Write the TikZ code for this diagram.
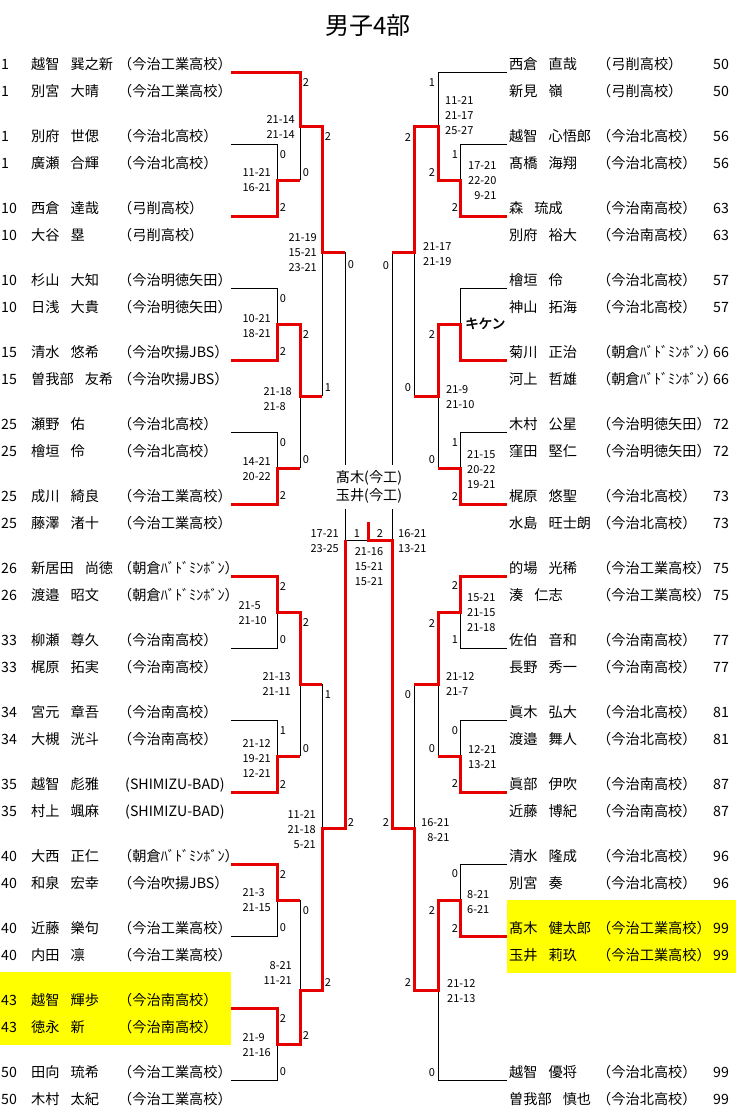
\documentclass[tikz,border=0pt]{standalone}
\usepackage{fontspec}
\setmainfont{Noto Sans CJK JP}[AutoFakeBold=2.5]
\definecolor{winred}{RGB}{230,0,0}
\definecolor{hilite}{RGB}{255,255,0}
\newcommand\zs{\hspace{11pt}}

\begin{document}
\begin{tikzpicture}[x=1pt,y=-1pt,
  win/.style={draw=winred,line width=3pt},
  lose/.style={draw=black,line width=0.8pt},
  txt/.style={inner sep=0pt,anchor=west,font=\fontsize{14.2}{16}\selectfont,text height=11.8pt,text depth=1pt},
  pt/.style={inner sep=0pt,font=\fontsize{11}{12}\selectfont,text height=8pt,text depth=0pt},
  sc/.style={inner sep=0pt,font=\fontsize{11}{15}\selectfont}]
\useasboundingbox (0,0) rectangle (736,1117);

% finalists
\fill[hilite] (0,972) rectangle (231,1045);
\fill[hilite] (507,900) rectangle (736,973);

\node[font=\fontsize{24}{26}\selectfont,inner sep=0pt] (title) at (368,25) {男子4部};

% team line ends
\foreach \k in {1,...,15} \coordinate (L\k) at (231,{72*\k});
\foreach \y [count=\k] in {72,144,216,288,360,432,504,576,648,720,792,864,936,1080}
  \coordinate (R\k) at (507,\y);

% junctions, left
\coordinate (la) at (277,180);  \coordinate (lb) at (300,126);
\coordinate (lc) at (277,324);  \coordinate (ld) at (277,468);
\coordinate (le) at (300,396);  \coordinate (lf) at (322,252);
\coordinate (lg) at (277,612);  \coordinate (lh) at (277,756);
\coordinate (li) at (300,684);  \coordinate (lj) at (277,900);
\coordinate (lk) at (277,1044); \coordinate (ll) at (300,990);
\coordinate (lm) at (322,828);  \coordinate (ls) at (345,540);
% junctions, right
\coordinate (ra) at (460,180);  \coordinate (rb) at (438,126);
\coordinate (rc) at (460,324);  \coordinate (rd) at (460,468);
\coordinate (re) at (438,396);  \coordinate (rf) at (414,252);
\coordinate (rg) at (460,612);  \coordinate (rh) at (460,756);
\coordinate (ri) at (438,684);  \coordinate (rj) at (460,900);
\coordinate (rk) at (438,990);  \coordinate (rl) at (414,828);
\coordinate (rs) at (392,540);
% final
\coordinate (fn) at (368,540);  \coordinate (fs) at (368,522);

% losing paths
\draw[lose] (L2) -| (la);
\draw[lose] (la -| lb) -- (lb);
\draw[lose] (L4) -| (lc);
\draw[lose] (L6) -| (ld);
\draw[lose] (ld -| le) -- (le);
\draw[lose] (le -| lf) -- (lf);
\draw[lose] (L9) -| (lg);
\draw[lose] (L10) -| (lh);
\draw[lose] (lh -| li) -- (li);
\draw[lose] (L13) -| (lj);
\draw[lose] (lj -| ll) -- (ll);
\draw[lose] (L15) -| (lk);
\draw[lose] (li -| lm) -- (lm);
\draw[lose] (lf -| ls) -- (ls) -- (fn);
\draw[lose] (R1) -| (rb);
\draw[lose] (R2) -| (ra);
\draw[lose] (R4) -| (rc);
\draw[lose] (R6) -| (rd);
\draw[lose] (rd -| re) -- (re);
\draw[lose] (re -| rf) -- (rf);
\draw[lose] (R9) -| (rg);
\draw[lose] (R10) -| (rh);
\draw[lose] (rh -| ri) -- (ri);
\draw[lose] (R12) -| (rj);
\draw[lose] (R14) -| (rk);
\draw[lose] (ri -| rl) -- (rl);
\draw[lose] (rf -| rs) -- (rs);

% winning paths
\draw[win] (L3) -| (la) -- (la -| lb);
\draw[win] (L1) -| (lb) -- (lb -| lf) -- (lf) -- (lf -| ls);
\draw[win] (L5) -| (lc) -- (lc -| le) -- (le) -- (le -| lf);
\draw[win] (L7) -| (ld) -- (ld -| le);
\draw[win] (L8) -| (lg) -- (lg -| li) -- (li) -- (li -| lm);
\draw[win] (L11) -| (lh) -- (lh -| li);
\draw[win] (L12) -| (lj) -- (lj -| ll);
\draw[win] (L14) -| (lk) -- (lk -| ll) -- (ll) -- (ll -| lm) -- (lm) -- (lm -| ls) -- (ls);
\draw[win] (R3) -| (ra) -- (ra -| rb) -- (rb) -- (rb -| rf) -- (rf) -- (rf -| rs);
\draw[win] (R5) -| (rc) -- (rc -| re) -- (re) -- (re -| rf);
\draw[win] (R7) -| (rd) -- (rd -| re);
\draw[win] (R8) -| (rg) -- (rg -| ri) -- (ri) -- (ri -| rl);
\draw[win] (R11) -| (rh) -- (rh -| ri);
\draw[win] (R13) -| (rj) -- (rj -| rk) -- (rk) -- (rk -| rl) -- (rl) -- (rl -| rs) -- (rs) -- (fn) -- (fs);

% left players
\foreach \y/\sd/\nm/\cl [count=\i] in {
  64/1/越智\zs 巽之新/（今治工業高校）, 91/1/別宮\zs 大晴/（今治工業高校）,
  136/1/別府\zs 世偲/（今治北高校）, 163/1/廣瀬\zs 合輝/（今治北高校）,
  208/10/西倉\zs 達哉/（弓削高校）, 235/10/大谷\zs 塁/（弓削高校）,
  280/10/杉山\zs 大知/（今治明徳矢田）, 307/10/日浅\zs 大貴/（今治明徳矢田）,
  352/15/清水\zs 悠希/（今治吹揚JBS）, 379/15/曽我部\zs 友希/（今治吹揚JBS）,
  424/25/瀬野\zs 佑/（今治北高校）, 451/25/檜垣\zs 伶/（今治北高校）,
  496/25/成川\zs 綺良/（今治工業高校）, 523/25/藤澤\zs 渚十/（今治工業高校）,
  568/26/新居田\zs 尚徳/（朝倉ﾊﾞﾄﾞﾐﾝﾎﾞﾝ）, 595/26/渡邉\zs 昭文/（朝倉ﾊﾞﾄﾞﾐﾝﾎﾞﾝ）,
  640/33/柳瀬\zs 尊久/（今治南高校）, 667/33/梶原\zs 拓実/（今治南高校）,
  712/34/宮元\zs 章吾/（今治南高校）, 739/34/大槻\zs 洸斗/（今治南高校）,
  784/35/越智\zs 彪雅/\hspace{7pt}(SHIMIZU-BAD), 811/35/村上\zs 颯麻/\hspace{7pt}(SHIMIZU-BAD),
  856/40/大西\zs 正仁/（朝倉ﾊﾞﾄﾞﾐﾝﾎﾞﾝ）, 883/40/和泉\zs 宏幸/（今治吹揚JBS）,
  928/40/近藤\zs 樂句/（今治工業高校）, 955/40/内田\zs 凛/（今治工業高校）,
  1000/43/越智\zs 輝歩/（今治南高校）, 1027/43/徳永\zs 新/（今治南高校）,
  1072/50/田向\zs 琉希/（今治工業高校）, 1099/50/木村\zs 太紀/（今治工業高校）}{
  \node[txt] (lseed\i) at (1,\y) {\sd};
  \node[txt] (lname\i) at (31,\y) {\nm};
  \node[txt] (lclub\i) at (118,\y) {\cl};
}

% right players
\foreach \y/\nm/\cl/\sd [count=\i] in {
  64/西倉\zs 直哉/（弓削高校）/50, 91/新見\zs 嶺/（弓削高校）/50,
  136/越智\zs 心悟郎/（今治北高校）/56, 163/髙橋\zs 海翔/（今治北高校）/56,
  208/森\zs 琉成/（今治南高校）/63, 235/別府\zs 裕大/（今治南高校）/63,
  280/檜垣\zs 伶/（今治北高校）/57, 307/神山\zs 拓海/（今治北高校）/57,
  352/菊川\zs 正治/（朝倉ﾊﾞﾄﾞﾐﾝﾎﾞﾝ）/66, 379/河上\zs 哲雄/（朝倉ﾊﾞﾄﾞﾐﾝﾎﾞﾝ）/66,
  424/木村\zs 公星/（今治明徳矢田）/72, 451/窪田\zs 堅仁/（今治明徳矢田）/72,
  496/梶原\zs 悠聖/（今治北高校）/73, 523/水島\zs 旺士朗/（今治北高校）/73,
  568/的場\zs 光稀/（今治工業高校）/75, 595/湊\zs 仁志/（今治工業高校）/75,
  640/佐伯\zs 音和/（今治南高校）/77, 667/長野\zs 秀一/（今治南高校）/77,
  712/眞木\zs 弘大/（今治北高校）/81, 739/渡邉\zs 舞人/（今治北高校）/81,
  784/眞部\zs 伊吹/（今治南高校）/87, 811/近藤\zs 博紀/（今治南高校）/87,
  856/清水\zs 隆成/（今治北高校）/96, 883/別宮\zs 奏/（今治北高校）/96,
  928/髙木\zs 健太郎/（今治工業高校）/99, 955/玉井\zs 莉玖/（今治工業高校）/99,
  1072/越智\zs 優将/（今治北高校）/99, 1099/曽我部\zs 慎也/（今治北高校）/99}{
  \node[txt] (rname\i) at (509,\y) {\nm};
  \node[txt] (rclub\i) at (597,\y) {\cl};
  \node[txt] (rseed\i) at (713,\y) {\sd};
}

% games won
\foreach \x/\y/\t [count=\i] in {
  283/154/0, 283/207/2, 283/298/0, 283/351/2, 283/442/0, 283/495/2, 283/586/2,
  283/639/0, 283/730/1, 283/784/2, 283/874/2, 283/927/0, 283/1018/2, 283/1071/0,
  306/82/2, 306/172/0, 306/334/2, 306/459/0, 306/622/2, 306/748/0, 306/910/0, 306/1035/2,
  328/136/2, 328/387/1, 328/694/1, 328/982/2, 351/264/0, 351/822/2,
  357/533/1, 380/533/2,
  455/154/1, 455/207/2, 455/442/1, 455/496/2, 455/585/2, 455/639/1, 455/730/0,
  455/783/2, 455/873/0, 455/928/2,
  432/82/1, 432/172/2, 432/334/2, 432/459/0, 432/623/2, 432/748/0, 432/910/2, 432/1072/0,
  408/137/2, 408/387/0, 408/694/0, 408/982/2, 386/265/0, 386/822/2}
  \node[pt] (gw\i) at (\x,\y) {\t};

% scores, left side
\foreach \x/\y/\al/\t [count=\i] in {
  271/180/left/{11-21\\16-21}, 295/127/left/{21-14\\21-14},
  271/326/left/{10-21\\18-21}, 271/469/left/{14-21\\20-22},
  292/399/left/{21-18\\21-8}, 317/253/left/{21-19\\15-21\\23-21},
  267/613/left/{21-5\\21-10}, 271/758/left/{21-12\\19-21\\12-21},
  291/684/left/{21-13\\21-11}, 271/900/left/{21-3\\21-15},
  271/1045/left/{21-9\\21-16}, 292/973/right/{8-21\\11-21},
  316/830/right/{11-21\\21-18\\5-21}, 339/541/left/{17-21\\23-25}}
  \node[sc,anchor=east,align=\al] (lsc\i) at (\x,\y) {\t};

% scores, right side
\foreach \x/\y/\al/\t [count=\i] in {
  468/181/right/{17-21\\22-20\\9-21}, 445/116/left/{11-21\\21-17\\25-27},
  467/470/left/{21-15\\20-22\\19-21}, 446/397/left/{21-9\\21-10},
  423/254/left/{21-17\\21-19}, 467/613/left/{15-21\\21-15\\21-18},
  468/757/left/{12-21\\13-21}, 446/684/left/{21-12\\21-7},
  467/902/left/{8-21\\6-21}, 447/991/left/{21-12\\21-13},
  421/830/right/{16-21\\8-21}, 398/541/left/{16-21\\13-21}}
  \node[sc,anchor=west,align=\al] (rsc\i) at (\x,\y) {\t};

\node[sc,align=center] (finalsc) at (369,567) {21-16\\15-21\\15-21};
\node[txt,font=\fontsize{13.5}{14}\selectfont\bfseries] (kiken) at (465,323) {キケン};

% champion
\node[fill=white,inner xsep=1pt,inner ysep=6pt,align=center,
  font=\fontsize{14.2}{18}\selectfont] (champ) at (369,487) {髙木(今工)\\玉井(今工)};
\end{tikzpicture}
\end{document}
